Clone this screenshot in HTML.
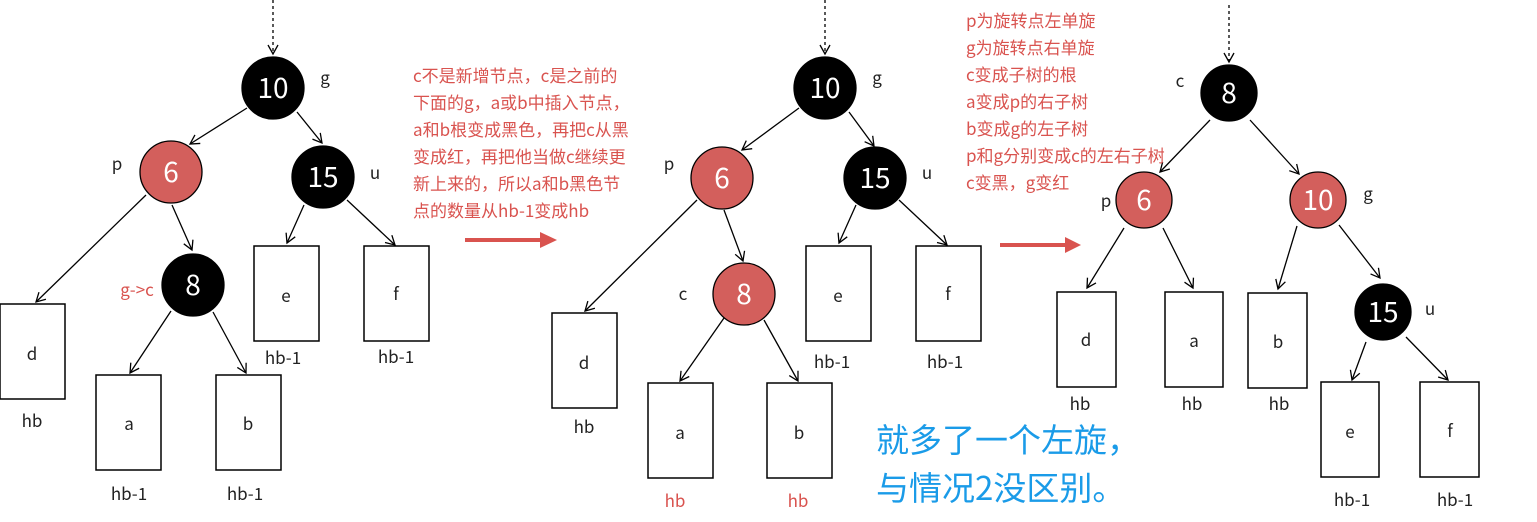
<!DOCTYPE html>
<html><head><meta charset="utf-8"><style>
html,body{margin:0;padding:0;background:#fff;}
svg{display:block}
text{font-family:"Noto Sans CJK SC","Liberation Sans",sans-serif;}
</style></head><body>
<svg width="1537" height="522" viewBox="0 0 1537 522" xmlns="http://www.w3.org/2000/svg">
<defs>
<marker id="ar" markerWidth="12" markerHeight="12" refX="10" refY="6" orient="auto" markerUnits="userSpaceOnUse">
<path d="M1,1 L10,6 L1,11" fill="none" stroke="#000" stroke-width="1.3"/></marker>
</defs>
<g stroke="#000" stroke-width="1.3" fill="none" marker-end="url(#ar)">
<line x1="273" y1="0" x2="273" y2="54" stroke-dasharray="3,3"/>
<line x1="247" y1="108" x2="190" y2="144"/>
<line x1="297" y1="112" x2="322" y2="143"/>
<line x1="146" y1="195" x2="36" y2="302"/>
<line x1="172" y1="205" x2="192" y2="250"/>
<line x1="171" y1="311" x2="130" y2="373"/>
<line x1="213" y1="312" x2="246" y2="373"/>
<line x1="304" y1="205" x2="287" y2="243"/>
<line x1="347" y1="200" x2="395" y2="245"/>

<line x1="825" y1="0" x2="825" y2="54" stroke-dasharray="3,3"/>
<line x1="799" y1="108" x2="742" y2="150"/>
<line x1="849" y1="112" x2="874" y2="146"/>
<line x1="697" y1="200" x2="585" y2="311"/>
<line x1="724" y1="210" x2="743" y2="261"/>
<line x1="724" y1="318" x2="680" y2="381"/>
<line x1="764" y1="320" x2="798" y2="381"/>
<line x1="856" y1="205" x2="839" y2="243"/>
<line x1="899" y1="200" x2="947" y2="245"/>

<line x1="1229" y1="5" x2="1229" y2="62" stroke-dasharray="3,3"/>
<line x1="1210" y1="120" x2="1160" y2="172"/>
<line x1="1250" y1="120" x2="1299" y2="174"/>
<line x1="1124" y1="228" x2="1087" y2="288"/>
<line x1="1163" y1="228" x2="1193" y2="288"/>
<line x1="1297" y1="226" x2="1278" y2="289"/>
<line x1="1339" y1="225" x2="1380" y2="278"/>
<line x1="1366" y1="342" x2="1352" y2="380"/>
<line x1="1406" y1="337" x2="1448" y2="380"/>
</g>
<g stroke="#000" stroke-width="1.5" fill="#fff">
<rect x="0" y="304" width="65" height="95"/>
<rect x="96" y="375" width="65" height="95"/>
<rect x="216" y="375" width="65" height="95"/>
<rect x="254" y="246" width="65" height="95"/>
<rect x="364" y="246" width="65" height="95"/>
<rect x="552" y="313" width="65" height="95"/>
<rect x="648" y="383" width="65" height="95"/>
<rect x="767" y="383" width="65" height="95"/>
<rect x="806" y="246" width="65" height="95"/>
<rect x="916" y="246" width="65" height="95"/>
<rect x="1057" y="292" width="59" height="95"/>
<rect x="1165" y="292" width="58" height="95"/>
<rect x="1248" y="293" width="59" height="95"/>
<rect x="1321" y="382" width="58" height="95"/>
<rect x="1420" y="382" width="59" height="95"/>
</g>
<g stroke="#000" stroke-width="1.3">
<circle cx="273" cy="88" r="31" fill="#000"/>
<circle cx="171" cy="172" r="31" fill="#d35f5c"/>
<circle cx="323" cy="177" r="31" fill="#000"/>
<circle cx="193" cy="285" r="31" fill="#000"/>
<circle cx="825" cy="88" r="31" fill="#000"/>
<circle cx="722" cy="178" r="31" fill="#d35f5c"/>
<circle cx="875" cy="178" r="31" fill="#000"/>
<circle cx="744" cy="294" r="31" fill="#d35f5c"/>
<circle cx="1229" cy="93" r="28" fill="#000"/>
<circle cx="1144" cy="200" r="28" fill="#d35f5c"/>
<circle cx="1318" cy="200" r="28" fill="#d35f5c"/>
<circle cx="1383" cy="312" r="28" fill="#000"/>
</g>
<g fill="#fff" font-size="28" text-anchor="middle">
<text x="273" y="98">10</text><text x="171" y="182">6</text><text x="323" y="187">15</text><text x="193" y="295">8</text>
<text x="825" y="98">10</text><text x="722" y="188">6</text><text x="875" y="188">15</text><text x="744" y="304">8</text>
<text x="1229" y="103">8</text><text x="1144" y="210">6</text><text x="1318" y="210">10</text><text x="1383" y="322">15</text>
</g>
<g fill="#222" font-size="17" text-anchor="middle">
<text x="325" y="84">g</text><text x="117" y="170">p</text><text x="375" y="179">u</text>
<text x="32" y="360">d</text><text x="129" y="430">a</text><text x="248" y="430">b</text><text x="286" y="302">e</text><text x="396" y="300">f</text>
<text x="32" y="427">hb</text><text x="129" y="500">hb-1</text><text x="245" y="500">hb-1</text><text x="283" y="364">hb-1</text><text x="396" y="363">hb-1</text>
<text x="877" y="84">g</text><text x="669" y="170">p</text><text x="927" y="179">u</text><text x="683" y="300">c</text>
<text x="584" y="369">d</text><text x="680" y="439">a</text><text x="799" y="439">b</text><text x="838" y="302">e</text><text x="948" y="300">f</text>
<text x="584" y="433">hb</text><text x="832" y="368">hb-1</text><text x="945" y="368">hb-1</text>
<text x="1180" y="87">c</text><text x="1106" y="207">p</text><text x="1368" y="200">g</text><text x="1430" y="315">u</text>
<text x="1086" y="346">d</text><text x="1194" y="347">a</text><text x="1278" y="348">b</text><text x="1350" y="438">e</text><text x="1450" y="437">f</text>
<text x="1080" y="410">hb</text><text x="1192" y="410">hb</text><text x="1279" y="410">hb</text><text x="1352" y="506">hb-1</text><text x="1455" y="506">hb-1</text>
</g>
<g fill="#d9534f" font-size="17" text-anchor="middle">
<text x="137" y="296">g-&gt;c</text><text x="675" y="507">hb</text><text x="798" y="507">hb</text>
</g>
<g fill="#d9534f" font-size="17">
<text x="413" y="82">c不是新增节点，c是之前的</text>
<text x="413" y="109">下面的g，a或b中插入节点，</text>
<text x="413" y="136">a和b根变成黑色，再把c从黑</text>
<text x="413" y="163">变成红，再把他当做c继续更</text>
<text x="413" y="190">新上来的，所以a和b黑色节</text>
<text x="413" y="217">点的数量从hb-1变成hb</text>
<text x="966" y="27">p为旋转点左单旋</text>
<text x="966" y="54">g为旋转点右单旋</text>
<text x="966" y="81">c变成子树的根</text>
<text x="966" y="108">a变成p的右子树</text>
<text x="966" y="135">b变成g的左子树</text>
<text x="966" y="162">p和g分别变成c的左右子树</text>
<text x="966" y="189">c变黑，g变红</text>
</g>
<g fill="#d9534f" stroke="none">
<rect x="465" y="238" width="76" height="4"/><polygon points="540,232 557,240 540,248"/>
<rect x="1000" y="243" width="66" height="4"/><polygon points="1065,237 1081,245 1065,253"/>
</g>
<g fill="#1a9be8" font-size="33">
<text x="876" y="452">就多了一个左旋，</text>
<text x="876" y="500">与情况2没区别。</text>
</g>
</svg>
</body></html>
